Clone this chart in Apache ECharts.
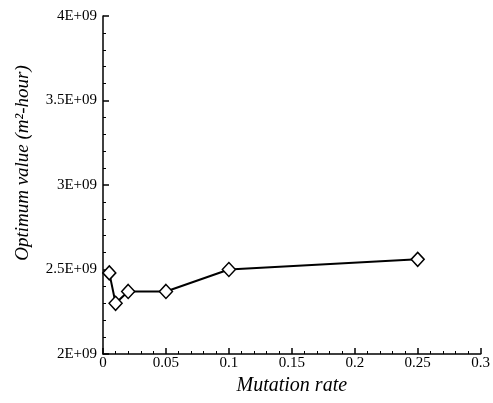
<!DOCTYPE html>
<html>
<head>
<meta charset="utf-8">
<script src="https://cdn.jsdelivr.net/npm/echarts@6/dist/echarts.min.js"></script>
<style>
  html, body { margin: 0; padding: 0; background: #fff; }
  #chart { width: 493px; height: 403px; }
</style>
</head>
<body>
<div id="chart"></div>
<script>
// 数据
var mutationRates = [0.005, 0.01, 0.02, 0.05, 0.1, 0.25];
var optimumValues = [2.48e9, 2.30e9, 2.37e9, 2.37e9, 2.50e9, 2.56e9];

var chart = echarts.init(document.getElementById('chart'));

var points = mutationRates.map(function (x, i) { return [x, optimumValues[i]]; });

var option = {
  animation: false,
  backgroundColor: '#fff',
  textStyle: { fontFamily: 'Liberation Serif', color: '#000' },
  grid: { left: 103, right: 12, top: 16, bottom: 49 },
  xAxis: {
    type: 'value',
    min: 0,
    max: 0.3,
    interval: 0.05,
    name: 'Mutation rate',
    nameLocation: 'middle',
    nameGap: 20,
    nameTextStyle: { fontFamily: 'Liberation Serif', fontStyle: 'italic', fontSize: 20, color: '#000' },
    axisLine: { lineStyle: { color: '#000', width: 1.5 } },
    axisTick: { inside: true, length: 6, lineStyle: { color: '#000', width: 1.5 } },
    minorTick: { show: true, splitNumber: 5, length: 3, lineStyle: { color: '#000', width: 1 } },
    axisLabel: { fontFamily: 'Liberation Serif', fontSize: 15, color: '#000', margin: 2 },
    splitLine: { show: false }
  },
  yAxis: {
    type: 'value',
    min: 2e9,
    max: 4e9,
    interval: 0.5e9,
    name: 'Optimum value (m²-hour)',
    nameLocation: 'middle',
    nameGap: 71,
    nameTextStyle: { fontFamily: 'Liberation Serif', fontStyle: 'italic', fontSize: 19, color: '#000', padding: [0, 0, 0, 44] },
    axisLine: { lineStyle: { color: '#000', width: 1.5 } },
    axisTick: { inside: true, length: 6, lineStyle: { color: '#000', width: 1.5 } },
    minorTick: { show: true, splitNumber: 5, length: 3, lineStyle: { color: '#000', width: 1 } },
    axisLabel: {
      fontFamily: 'Liberation Serif', fontSize: 15, color: '#000', margin: 6,
      formatter: function (v) { return (v / 1e9) + 'E+09'; }
    },
    splitLine: { show: false }
  },
  series: [{
    type: 'line',
    data: points,
    symbol: 'diamond',
    symbolSize: [13, 14],
    lineStyle: { color: '#000', width: 2 },
    itemStyle: { color: '#fff', borderColor: '#000', borderWidth: 1.5 }
  }]
};

chart.setOption(option);
</script>
</body>
</html>
